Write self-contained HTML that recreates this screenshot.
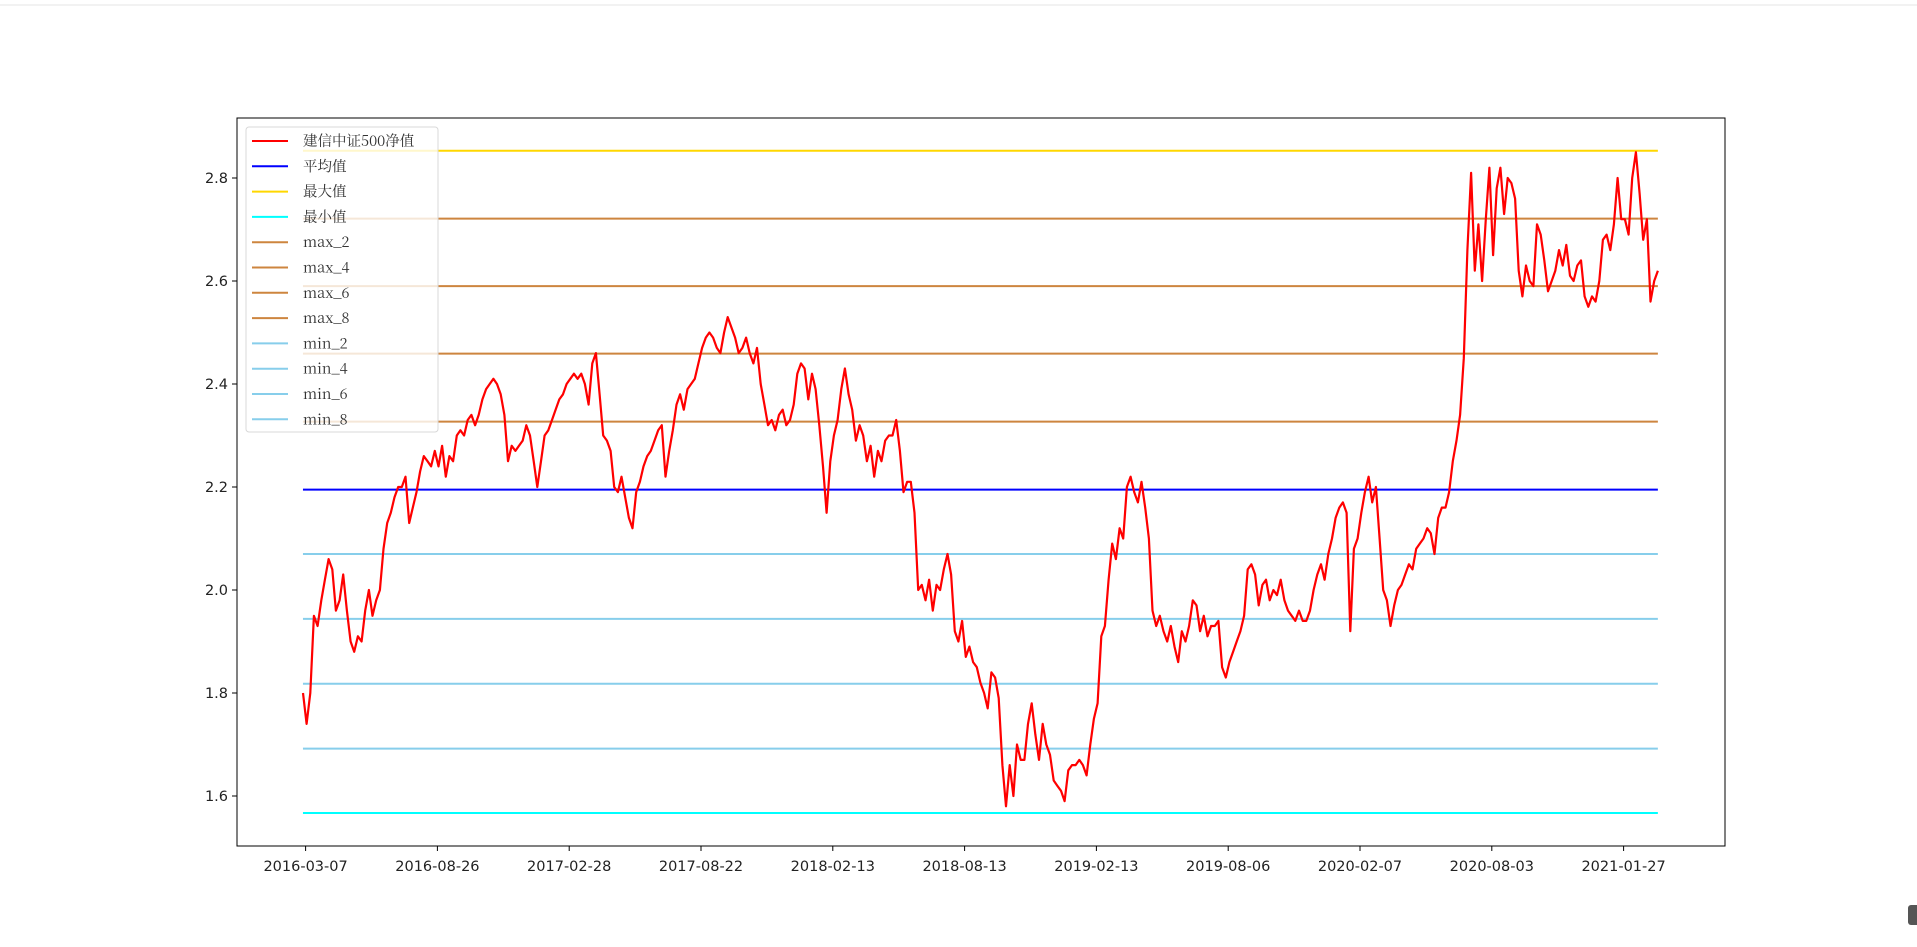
<!DOCTYPE html>
<html><head><meta charset="utf-8">
<style>
html,body{margin:0;padding:0;background:#fff;}
svg{display:block;}
text{font-family:"DejaVu Sans","Liberation Sans",sans-serif;}
.lg{font-family:"Noto Serif CJK SC","DejaVu Serif",serif;font-size:14.5px;fill:#333;}
</style></head>
<body>
<svg id="chart" width="1917" height="947" viewBox="0 0 1917 947" xmlns="http://www.w3.org/2000/svg">
<line x1="0" y1="5" x2="1917" y2="5" stroke="#e6e6e6" stroke-width="1"/>
<rect x="1908" y="905" width="12" height="20" rx="3" fill="#555"/>
<g id="plot"></g>
</svg>
<script>
const navValues=[1.80,1.74,1.80,1.95,1.93,1.98,2.02,2.06,2.04,1.96,1.98,2.03,1.96,1.90,1.88,1.91,1.90,1.96,2.00,1.95,1.98,2.00,2.08,2.13,2.15,2.18,2.20,2.20,2.22,2.13,2.16,2.19,2.23,2.26,2.25,2.24,2.27,2.24,2.28,2.22,2.26,2.25,2.30,2.31,2.30,2.33,2.34,2.32,2.34,2.37,2.39,2.40,2.41,2.40,2.38,2.34,2.25,2.28,2.27,2.28,2.29,2.32,2.30,2.25,2.20,2.25,2.30,2.31,2.33,2.35,2.37,2.38,2.40,2.41,2.42,2.41,2.42,2.40,2.36,2.44,2.46,2.38,2.30,2.29,2.27,2.20,2.19,2.22,2.18,2.14,2.12,2.19,2.21,2.24,2.26,2.27,2.29,2.31,2.32,2.22,2.27,2.31,2.36,2.38,2.35,2.39,2.40,2.41,2.44,2.47,2.49,2.50,2.49,2.47,2.46,2.50,2.53,2.51,2.49,2.46,2.47,2.49,2.46,2.44,2.47,2.40,2.36,2.32,2.33,2.31,2.34,2.35,2.32,2.33,2.36,2.42,2.44,2.43,2.37,2.42,2.39,2.32,2.24,2.15,2.25,2.30,2.33,2.39,2.43,2.38,2.35,2.29,2.32,2.30,2.25,2.28,2.22,2.27,2.25,2.29,2.30,2.30,2.33,2.27,2.19,2.21,2.21,2.15,2.00,2.01,1.98,2.02,1.96,2.01,2.00,2.04,2.07,2.03,1.92,1.90,1.94,1.87,1.89,1.86,1.85,1.82,1.80,1.77,1.84,1.83,1.79,1.66,1.58,1.66,1.60,1.70,1.67,1.67,1.74,1.78,1.72,1.67,1.74,1.70,1.68,1.63,1.62,1.61,1.59,1.65,1.66,1.66,1.67,1.66,1.64,1.70,1.75,1.78,1.91,1.93,2.02,2.09,2.06,2.12,2.10,2.20,2.22,2.19,2.17,2.21,2.16,2.10,1.96,1.93,1.95,1.92,1.90,1.93,1.89,1.86,1.92,1.90,1.93,1.98,1.97,1.92,1.95,1.91,1.93,1.93,1.94,1.85,1.83,1.86,1.88,1.90,1.92,1.95,2.04,2.05,2.03,1.97,2.01,2.02,1.98,2.00,1.99,2.02,1.98,1.96,1.95,1.94,1.96,1.94,1.94,1.96,2.00,2.03,2.05,2.02,2.07,2.10,2.14,2.16,2.17,2.15,1.92,2.08,2.10,2.15,2.19,2.22,2.17,2.20,2.10,2.00,1.98,1.93,1.97,2.00,2.01,2.03,2.05,2.04,2.08,2.09,2.10,2.12,2.11,2.07,2.14,2.16,2.16,2.19,2.25,2.29,2.34,2.45,2.66,2.81,2.62,2.71,2.60,2.72,2.82,2.65,2.78,2.82,2.73,2.80,2.79,2.76,2.62,2.57,2.63,2.60,2.59,2.71,2.69,2.64,2.58,2.60,2.62,2.66,2.63,2.67,2.61,2.60,2.63,2.64,2.57,2.55,2.57,2.56,2.60,2.68,2.69,2.66,2.71,2.80,2.72,2.72,2.69,2.80,2.85,2.77,2.68,2.72,2.56,2.60,2.62];
const seriesStartUnit=-0.02;
const seriesEndUnit=10.26;
const levelNames=["mean","max","min","max_2","max_4","max_6","max_8","min_2","min_4","min_6","min_8"];
const levelValues=[2.195,2.853,1.567,2.721,2.590,2.459,2.327,2.070,1.944,1.818,1.692];
const levelColors=["#0000ff","#ffd700","#00ffff","#cd853f","#cd853f","#cd853f","#cd853f","#87ceeb","#87ceeb","#87ceeb","#87ceeb"];
const yTicks=[1.6,1.8,2.0,2.2,2.4,2.6,2.8];
const xTickLabels=["2016-03-07","2016-08-26","2017-02-28","2017-08-22","2018-02-13","2018-08-13","2019-02-13","2019-08-06","2020-02-07","2020-08-03","2021-01-27"];
const legendLabels=["建信中证500净值","平均值","最大值","最小值","max_2","max_4","max_6","max_8","min_2","min_4","min_6","min_8"];
const legendColors=["#ff0000","#0000ff","#ffd700","#00ffff","#cd853f","#cd853f","#cd853f","#cd853f","#87ceeb","#87ceeb","#87ceeb","#87ceeb"];

const NS="http://www.w3.org/2000/svg";
const AX={l:237,r:1725,t:118,b:846};
function xScale(u){return 305.6+u*131.8;}
function yScale(v){return 178-(v-2.8)*515;}
const g=document.getElementById('plot');
function mk(tag,attrs,parent){const e=document.createElementNS(NS,tag);for(const k in attrs)e.setAttribute(k,attrs[k]);(parent||g).appendChild(e);return e;}

const x0=xScale(seriesStartUnit),x1=xScale(seriesEndUnit);
levelValues.forEach((v,i)=>{
  const l=mk('line',{x1:x0,x2:x1,y1:yScale(v),y2:yScale(v),stroke:levelColors[i],'stroke-width':2});
  
  
});
const n=navValues.length;
const pts=navValues.map((v,i)=>{const u=seriesStartUnit+(seriesEndUnit-seriesStartUnit)*i/(n-1);return xScale(u).toFixed(1)+','+yScale(v).toFixed(1);});
const pl=mk('polyline',{points:pts.join(' '),fill:'none',stroke:'#ff0000','stroke-width':2.2,'stroke-linejoin':'round'});


const fr=mk('rect',{x:AX.l,y:AX.t,width:AX.r-AX.l,height:AX.b-AX.t,fill:'none',stroke:'#000','stroke-width':1});


yTicks.forEach(v=>{
  const y=yScale(v);
  const t=mk('line',{x1:AX.l-5,x2:AX.l,y1:y,y2:y,stroke:'#000','stroke-width':1});
  
  
  const tx=mk('text',{x:AX.l-9,y:y+5,'text-anchor':'end','font-size':14.5,fill:'#222'});
  tx.textContent=v.toFixed(1);
  
  
});
xTickLabels.forEach((s,i)=>{
  const x=xScale(i);
  const t=mk('line',{x1:x,x2:x,y1:AX.b,y2:AX.b+5,stroke:'#000','stroke-width':1});
  
  
  const tx=mk('text',{x:x,y:AX.b+25,'text-anchor':'middle','font-size':14.5,fill:'#222'});
  tx.textContent=s;
  
  
});
const lg=mk('g',{});


const lb=mk('rect',{x:246,y:127,width:192,height:305,rx:3,fill:'rgba(255,255,255,0.8)',stroke:'#d8d8d8','stroke-width':1},lg);


legendLabels.forEach((s,i)=>{
  const y=141+i*25.3;
  const e=mk('g',{},lg);
  
  
  mk('line',{x1:252,x2:288,y1:y,y2:y,stroke:legendColors[i],'stroke-width':2},e);
  const t=mk('text',{x:303,y:y+5,class:'lg'},e);
  t.textContent=s;
});
</script>
</body></html>
